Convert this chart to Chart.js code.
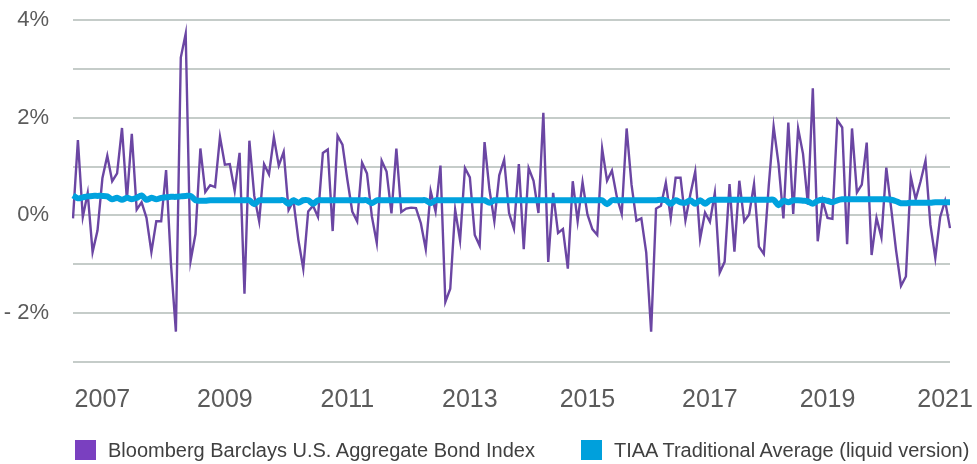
<!DOCTYPE html>
<html>
<head>
<meta charset="utf-8">
<script src="https://cdn.jsdelivr.net/npm/chart.js@4.4.1/dist/chart.umd.min.js"></script>
<style>
  html, body { margin: 0; padding: 0; background: #fff; }
  #wrap { position: relative; width: 977px; height: 464px; }
  #legend {
    position: absolute; left: 75px; top: 440px;
    display: flex; gap: 46px;
    font-family: "Liberation Sans", Arial, sans-serif; font-size: 20px; color: #404040;
  }
  .item { display: flex; align-items: center; gap: 12px; white-space: nowrap; line-height: 20px; }
  .swatch { width: 21px; height: 20px; }
</style>
</head>
<body>
<div id="wrap">
  <canvas id="myChart"></canvas>
  <div id="legend"></div>
</div>
<script>
// monthly returns (%), Jan 2007 - Dec 2021
var aggReturns = [
  -0.06, 1.54, -0.03, 0.46, -0.75, -0.31, 0.76, 1.22, 0.70, 0.86, 1.79, 0.32,
  1.67, 0.12, 0.27, -0.05, -0.75, -0.12, -0.12, 0.93, -1.00, -2.38, 3.23, 3.72,
  -0.93, -0.38, 1.37, 0.48, 0.62, 0.58, 1.61, 1.04, 1.05, 0.50, 1.28, -1.60,
  1.53, 0.40, -0.12, 1.05, 0.84, 1.60, 1.02, 1.30, 0.11, 0.30, -0.50, -1.09,
  0.08, 0.20, -0.03, 1.28, 1.35, -0.32, 1.63, 1.45, 0.73, 0.08, -0.12, 1.08,
  0.86, -0.02, -0.56, 1.12, 0.90, 0.04, 1.37, 0.07, 0.14, 0.16, 0.15, -0.16,
  -0.69, 0.50, 0.08, 1.02, -1.77, -1.50, 0.12, -0.51, 0.97, 0.78, -0.40, -0.62,
  1.50, 0.53, -0.12, 0.82, 1.14, 0.05, -0.27, 1.05, -0.69, 0.97, 0.71, 0.05,
  2.10, -0.95, 0.46, -0.36, -0.28, -1.09, 0.70, -0.12, 0.68, 0.02, -0.28, -0.40,
  1.37, 0.71, 0.92, 0.38, 0.03, 1.78, 0.63, -0.11, -0.06, -0.76, -2.38, 0.14,
  0.20, 0.67, -0.05, 0.77, 0.77, -0.10, 0.43, 0.90, -0.48, 0.06, -0.13, 0.46,
  -1.17, -0.95, 0.64, -0.74, 0.71, -0.12, 0.02, 0.64, -0.64, -0.79, 0.60, 1.82,
  1.06, -0.06, 1.90, 0.03, 1.78, 1.26, 0.22, 2.60, -0.53, 0.30, -0.05, -0.07,
  1.95, 1.80, -0.59, 1.78, 0.47, 0.63, 1.49, -0.81, -0.05, -0.45, 0.98, 0.14,
  -0.72, -1.44, -1.25, 0.79, 0.33, 0.70, 1.12, -0.19, -0.87, -0.03, 0.30, -0.26
];

var tiaaReturns = [
  0.41, 0.35, 0.37, 0.39, 0.40, 0.40, 0.40, 0.39, 0.33, 0.36, 0.32, 0.36,
  0.33, 0.36, 0.41, 0.32, 0.36, 0.33, 0.36, 0.37, 0.38, 0.38, 0.39, 0.40,
  0.40, 0.31, 0.30, 0.30, 0.31, 0.31, 0.31, 0.31, 0.31, 0.31, 0.31, 0.31,
  0.31, 0.23, 0.31, 0.31, 0.31, 0.31, 0.31, 0.31, 0.24, 0.31, 0.26, 0.31,
  0.31, 0.24, 0.31, 0.31, 0.31, 0.31, 0.31, 0.31, 0.31, 0.31, 0.31, 0.31,
  0.31, 0.25, 0.31, 0.31, 0.31, 0.31, 0.31, 0.31, 0.31, 0.31, 0.31, 0.31,
  0.31, 0.25, 0.31, 0.31, 0.31, 0.31, 0.31, 0.31, 0.31, 0.31, 0.31, 0.31,
  0.31, 0.26, 0.31, 0.31, 0.31, 0.31, 0.31, 0.31, 0.31, 0.31, 0.31, 0.31,
  0.31, 0.31, 0.31, 0.31, 0.31, 0.31, 0.31, 0.31, 0.31, 0.31, 0.31, 0.31,
  0.31, 0.23, 0.31, 0.31, 0.31, 0.31, 0.31, 0.31, 0.31, 0.31, 0.31, 0.31,
  0.32, 0.31, 0.24, 0.31, 0.27, 0.26, 0.31, 0.24, 0.31, 0.24, 0.31, 0.32,
  0.32, 0.32, 0.32, 0.32, 0.32, 0.32, 0.32, 0.32, 0.32, 0.32, 0.32, 0.32,
  0.21, 0.30, 0.27, 0.31, 0.31, 0.30, 0.29, 0.24, 0.30, 0.32, 0.30, 0.27,
  0.31, 0.33, 0.33, 0.33, 0.33, 0.33, 0.33, 0.33, 0.33, 0.33, 0.33, 0.32,
  0.29, 0.25, 0.25, 0.26, 0.26, 0.26, 0.26, 0.26, 0.27, 0.27, 0.27, 0.27
];

var seriesNames = ['Bloomberg Barclays U.S. Aggregate Bond Index', 'TIAA Traditional Average (liquid version)'];

var yearTickLabels = ['2007', '2009', '2011', '2013', '2015', '2017', '2019', '2021'];
var yearTickMonths = ['2007-07', '2009-08', '2011-09', '2013-10', '2015-10', '2017-11', '2019-11', '2021-11'];

var months = [];
for (var y = 2007; y <= 2021; y++) {
  for (var m = 1; m <= 12; m++) months.push(y + '-' + (m < 10 ? '0' + m : m));
}

var tickFont = { family: '"Liberation Sans", Arial, sans-serif' };

var ctx = document.getElementById('myChart').getContext('2d');
var myChart = new Chart(ctx, {
  type: 'line',
  data: {
    labels: months,
    datasets: [{
      label: seriesNames[0],
      data: aggReturns,
      borderColor: '#6b46a3',
      backgroundColor: '#7a40c0',
      borderWidth: 2.4,
      borderJoinStyle: 'miter',
      pointRadius: 0,
      tension: 0,
      order: 1
    }, {
      label: seriesNames[1],
      data: tiaaReturns,
      borderColor: '#00a2de',
      backgroundColor: '#00a0dc',
      borderWidth: 6,
      borderJoinStyle: 'round',
      pointRadius: 0,
      tension: 0.3,
      order: 0
    }]
  },
  options: {
    responsive: true,
    maintainAspectRatio: false,
    animation: false,
    layout: { padding: { top: 20, right: 27, bottom: 50, left: 0 } },
    scales: {
      x: {
        grid: { display: false },
        border: { display: false },
        afterBuildTicks: function(scale) {
          scale.ticks = yearTickMonths.map(function(mo) { return { value: months.indexOf(mo) }; });
        },
        afterFit: function(scale) {
          scale.height = 52;
          scale.paddingLeft = 0;
          scale.paddingRight = 0;
        },
        ticks: {
          autoSkip: false,
          maxRotation: 0,
          padding: 15,
          color: '#5b5b5b',
          font: Object.assign({ size: 25 }, tickFont),
          callback: function(value) {
            return yearTickLabels[yearTickMonths.indexOf(months[value])];
          }
        }
      },
      y: {
        min: -3,
        max: 4,
        afterFit: function(scale) {
          scale.width = 73;
          scale.paddingTop = 0;
          scale.paddingBottom = 0;
        },
        grid: { color: '#c5ccc9', lineWidth: 2, drawTicks: false },
        border: { display: false },
        ticks: {
          stepSize: 1,
          padding: 24,
          color: '#5b5b5b',
          font: Object.assign({ size: 22 }, tickFont),
          callback: function(value) {
            if (value % 2 !== 0) return '';
            return value < 0 ? '- ' + Math.abs(value) + '%' : value + '%';
          }
        }
      }
    },
    plugins: {
      legend: { display: false },
      tooltip: { enabled: false }
    }
  }
});

var legendEl = document.getElementById('legend');
myChart.data.datasets.forEach(function(ds) {
  var item = document.createElement('div');
  item.className = 'item';
  var sw = document.createElement('span');
  sw.className = 'swatch';
  sw.style.background = ds.backgroundColor;
  var txt = document.createElement('span');
  txt.textContent = ds.label;
  item.appendChild(sw);
  item.appendChild(txt);
  legendEl.appendChild(item);
});
</script>
</body>
</html>
